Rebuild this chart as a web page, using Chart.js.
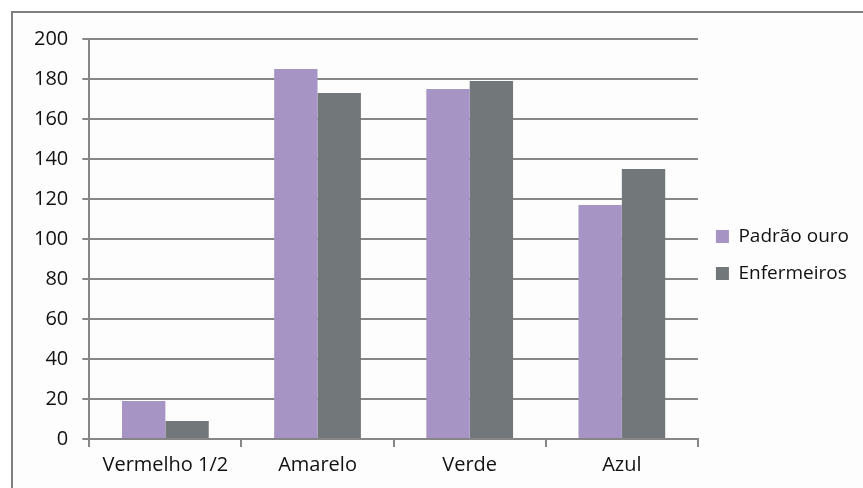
<!DOCTYPE html>
<html>
<head>
<meta charset="utf-8">
<script src="https://cdn.jsdelivr.net/npm/chart.js@4/dist/chart.umd.min.js"></script>
<style>
  html, body { margin: 0; padding: 0; background: #fff; }
  #frame {
    position: absolute; left: 11px; top: 11px;
    width: 852px; height: 477px;
    border-top: 2px solid #7f7f7f; border-left: 2px solid #7f7f7f;
    background: #fdfdfd;
  }
  #frame canvas { display: block; }
</style>
</head>
<body>
<div id="frame"><canvas id="chart" width="850" height="475"></canvas></div>
<script>
// カテゴリとシリーズの値
const categories = ["Vermelho 1/2", "Amarelo", "Verde", "Azul"];
const padraoOuro = [19, 185, 175, 117];
const enfermeiros = [9, 173, 179, 135];
const yTicks = [0, 20, 40, 60, 80, 100, 120, 140, 160, 180, 200];

const FONT = "'Open Sans', Lato, sans-serif";
const gridColor = "#868686";
const textColor = "#111";

const ctx = document.getElementById("chart").getContext("2d");
new Chart(ctx, {
  type: "bar",
  data: {
    labels: categories,
    datasets: [
      {
        label: "Padrão ouro",
        data: padraoOuro,
        backgroundColor: "#a594c4",
        borderWidth: 0
      },
      {
        label: "Enfermeiros",
        data: enfermeiros,
        backgroundColor: "#727779",
        borderWidth: 0
      }
    ]
  },
  options: {
    responsive: false,
    animation: false,
    layout: { padding: { top: 14, right: 4, left: 7, bottom: 5 } },
    datasets: {
      bar: { barPercentage: 1, categoryPercentage: 0.57 }
    },
    plugins: {
      tooltip: { enabled: false },
      legend: {
        position: "right",
        align: "center",
        labels: {
          boxWidth: 13,
          boxHeight: 13,
          padding: 18,
          color: textColor,
          font: { family: FONT, size: 19, weight: "500" }
        }
      }
    },
    scales: {
      x: {
        offset: true,
        grid: {
          offset: true,
          drawOnChartArea: false,
          drawTicks: true,
          tickLength: 8,
          color: gridColor,
          lineWidth: 2
        },
        border: { display: true, color: gridColor, width: 2 },
        ticks: {
          color: textColor,
          padding: 6,
          font: { family: FONT, size: 20, weight: "500" }
        }
      },
      y: {
        min: 0,
        max: 200,
        afterBuildTicks(axis) {
          axis.ticks = yTicks.map(v => ({ value: v }));
        },
        grid: {
          color: gridColor,
          lineWidth: 2,
          drawTicks: true,
          tickLength: 7
        },
        border: { display: true, color: gridColor, width: 2 },
        ticks: {
          color: textColor,
          padding: 14,
          font: { family: FONT, size: 20, weight: "500" }
        }
      }
    }
  }
});
</script>
</body>
</html>
